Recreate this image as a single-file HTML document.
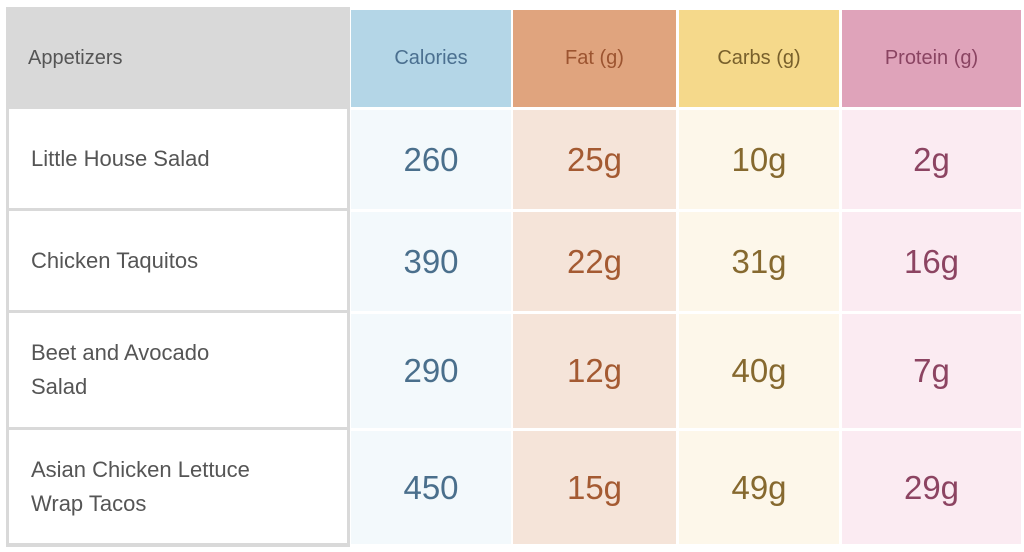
<!DOCTYPE html>
<html><head><meta charset="utf-8"><style>
body{margin:0;width:1024px;height:552px;background:#fff;position:relative;overflow:hidden;font-family:"Liberation Sans",sans-serif}
.c{position:absolute;display:flex;align-items:center;box-sizing:border-box}
.n{justify-content:center;font-size:33px}
.h{justify-content:center;font-size:20px}
.l{padding-left:22px;font-size:22px;color:#555;line-height:34px}
</style></head><body>
<div style="position:absolute;left:6px;top:7px;width:344px;height:540px;background:#d9d9d9"></div>
<div class="c l" style="left:6px;top:7px;width:344px;height:101px;font-size:20px">Appetizers</div>
<div class="c h" style="left:351px;top:10px;width:160px;height:97px;background:#b4d6e7;color:#4b7090">Calories</div>
<div class="c h" style="left:513px;top:10px;width:163px;height:97px;background:#e0a47e;color:#9c5430">Fat (g)</div>
<div class="c h" style="left:679px;top:10px;width:160px;height:97px;background:#f5d98b;color:#78602c">Carbs (g)</div>
<div class="c h" style="left:842px;top:10px;width:179px;height:97px;background:#dfa3ba;color:#8a4462">Protein (g)</div>
<div id="rows"></div>
<script>
const names=["Little House Salad","Chicken Taquitos","Beet and Avocado<br>Salad","Asian Chicken Lettuce<br>Wrap Tacos"];
const calories=["260","390","290","450"];
const fat=["25g","22g","12g","15g"];
const carbs=["10g","31g","40g","49g"];
const protein=["2g","16g","7g","29g"];
const tops=[110,212,314,431],bots=[209,311,428,544];
const cols=[[351,160,"#f3f9fc","#4a6f8c",calories,"calories"],[513,163,"#f5e4d9","#a45a32",fat,"fat"],[679,160,"#fdf7ea","#86692f",carbs,"carbs"],[842,179,"#fbebf2","#8c4462",protein,"protein"]];
let html="";
names.forEach((nm,i)=>{
 const t=tops[i],h=bots[i]-t;
 html+=`<div class="c l" style="left:9px;top:${t-1}px;width:338px;height:${h}px;background:#fff">${nm}</div>`;
 cols.forEach(c=>{
  html+=`<div class="c n" style="left:${c[0]}px;top:${t}px;width:${c[1]}px;height:${h}px;background:${c[2]};color:${c[3]}">${c[4][i]}</div>`;
 });
});
document.getElementById('rows').innerHTML=html;
</script>
</body></html>
